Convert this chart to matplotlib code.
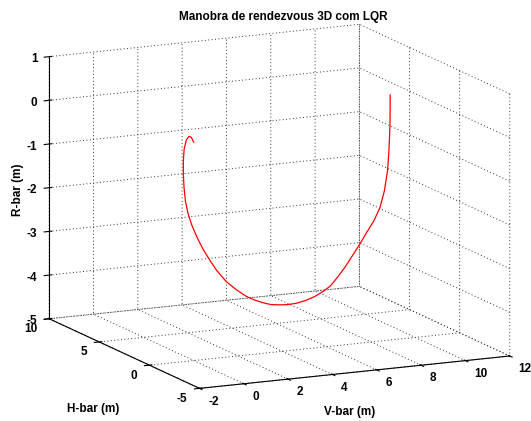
import matplotlib
matplotlib.use('Agg')
import matplotlib.pyplot as plt

# trajectory (V-bar, H-bar, R-bar in m)
v_bar = [11.16, 11.15, 11.09, 11.01, 10.83, 10.58, 10.23, 9.83, 9.43, 9.02, 8.62, 8.19,
         7.76, 7.30, 6.88, 6.35, 5.84, 5.34, 4.88, 4.37, 3.91, 3.44, 2.98, 2.41, 1.85,
         1.32, 0.89, 0.51, 0.17, -0.12, -0.33, -0.47, -0.55, -0.59, -0.59, -0.54, -0.42,
         -0.27, -0.13, -0.05, 0.0]
h_bar = [5.07, 5.07, 5.04, 5.00, 4.92, 4.81, 4.65, 4.47, 4.28, 4.10, 3.92, 3.72,
         3.53, 3.32, 3.13, 2.89, 2.66, 2.43, 2.22, 1.98, 1.78, 1.57, 1.36, 1.10, 0.84,
         0.60, 0.40, 0.23, 0.08, -0.06, -0.15, -0.21, -0.25, -0.27, -0.27, -0.24, -0.19,
         -0.12, -0.06, -0.02, 0.0]
r_bar = [-0.05, -0.74, -1.31, -1.76, -2.21, -2.57, -2.84, -3.06, -3.29, -3.51, -3.72, -3.91,
         -4.08, -4.17, -4.23, -4.27, -4.28, -4.26, -4.22, -4.16, -4.07, -3.96, -3.83, -3.62, -3.38,
         -3.08, -2.78, -2.49, -2.18, -1.88, -1.59, -1.30, -0.99, -0.68, -0.36, -0.10, 0.09,
         0.16, 0.12, 0.04, 0.0]

x_ticks = [-2, 0, 2, 4, 6, 8, 10, 12]
y_ticks = [-5, 0, 5, 10]
z_ticks = [-5, -4, -3, -2, -1, 0, 1]

plt.rcParams['font.family'] = ['Liberation Sans', 'DejaVu Sans']
plt.rcParams['font.weight'] = 'bold'
plt.rcParams['font.size'] = 8.5

fig = plt.figure(figsize=(5.31, 4.21), dpi=100)
ax = fig.add_axes([0.0156, -0.0036, 1.0, 1.0], projection='3d')
ax.set_proj_type('ortho')
ax.view_init(elev=12.7, azim=-115.4)
ax.set_box_aspect((340, 347, 266), zoom=1.29)

ax.plot(v_bar, h_bar, r_bar, color='r', lw=0.9)

ax.set_xlim(-2, 12)
ax.set_ylim(-5, 10)
ax.set_zlim(-5, 1)
ax.set_xticks(x_ticks)
ax.set_yticks(y_ticks)
ax.set_zticks(z_ticks)
ax.tick_params(axis='x', labelbottom=False)
ax.tick_params(axis='y', labelleft=False)
ax.tick_params(axis='z', labelleft=False)

for axis in (ax.xaxis, ax.yaxis, ax.zaxis):
    axis.set_pane_color((1, 1, 1, 0))
    axis.pane.set_edgecolor('none')
    axis.line.set_color('k')
    axis.line.set_linewidth(0.8)
    axis._axinfo['grid'].update(color='0.2', linestyle=(0, (1, 2.5)), linewidth=0.7)

# tick labels placed MATLAB-style, just off the axis lines
for v in x_ticks:
    ax.text(v, -5.86, -5.21, str(v), ha='left', va='center')
for h in y_ticks:
    ax.text(-2.55, h, -5.21, str(h), ha='right', va='center')
for r in z_ticks:
    ax.text(-2.53, 10, r, str(r), ha='right', va='center_baseline')

fig.text(0.533, 0.96, 'Manobra de rendezvous 3D com LQR', ha='center', va='center')
fig.text(0.659, 0.022, 'V-bar (m)', ha='center', va='center')
fig.text(0.175, 0.029, 'H-bar (m)', ha='center', va='center')
fig.text(0.034, 0.55, 'R-bar (m)', ha='center', va='center', rotation=90)

fig.savefig('out.png', dpi=100)
